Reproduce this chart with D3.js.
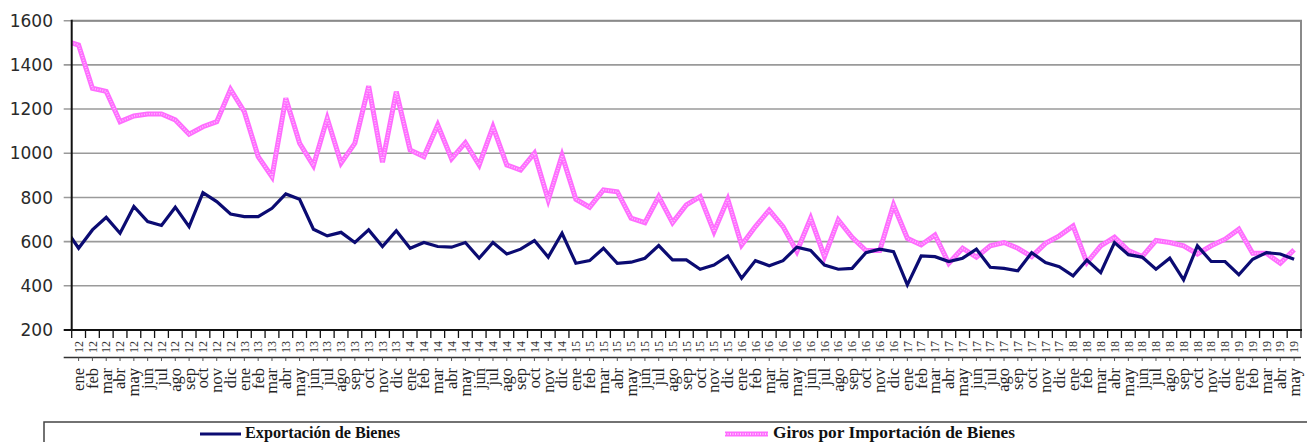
<!DOCTYPE html>
<html><head><meta charset="utf-8">
<script src="https://cdn.jsdelivr.net/npm/d3@7"></script>
<style>html,body{margin:0;padding:0;background:#fff;overflow:hidden}</style>
</head><body>
<svg id="c" width="1307" height="442"></svg>
<script>
const monthNames = ['ene','feb','mar','abr','may','jun','jul','ago','sep','oct','nov','dic'];
const yearLabels = ['12','13','14','15','16','17','18','19'];
// previous month (dic 11), only partially visible at the left edge
const exportPrev = 661;
const girosPrev = 1510;
const exportaciones = [
 570,653,710,638,759,691,673,756,668,822,
 781,725,713,713,751,816,792,656,626,642,
 596,653,578,649,570,596,578,575,596,525,
 596,544,566,605,530,638,502,514,570,502,
 507,525,582,517,517,475,494,535,434,514,
 491,514,575,560,494,475,479,550,566,555,
 404,535,532,510,525,566,484,479,468,550,
 505,487,445,517,460,596,541,530,475,525,
 427,581,510,510,450,520,550,544,520];
const giros = [
 1490,1294,1280,1143,1169,1178,1178,1151,1086,1120,
 1143,1289,1188,985,894,1249,1045,944,1158,955,
 1045,1304,959,1279,1015,985,1128,975,1048,947,
 1120,947,924,1000,789,990,792,756,834,826,
 706,686,804,686,766,804,645,792,585,668,
 743,668,555,706,532,698,620,560,560,766,
 615,585,630,502,570,530,581,596,570,532,
 592,626,671,505,581,620,560,532,605,596,
 581,544,581,611,656,547,547,502,563];
const yTicks = [200,400,600,800,1000,1200,1400,1600];
const seriesNames = ['Exportación de Bienes','Giros por Importación de Bienes'];

const categories = [];
for (let i = 0; i < exportaciones.length; i++) {
  categories.push({m: monthNames[i % 12], y: yearLabels[Math.floor(i / 12)]});
}

const svg = d3.select('#c');
const L = 71.7, R = 1301, T = 20.7, B = 330;
const x = d3.scaleLinear().domain([-0.5, categories.length - 0.5]).range([L, R]);
const y = d3.scaleLinear().domain([200, 1600]).range([B, T]);

// gridlines
svg.append('g').selectAll('line').data(yTicks).join('line')
  .attr('x1', L - 8).attr('x2', R).attr('y1', d => y(d)).attr('y2', d => y(d))
  .attr('stroke', d => d === 200 ? 'none' : '#9a9a9a').attr('stroke-width', 1.6);
// right / top border
svg.append('line').attr('x1', R).attr('x2', R).attr('y1', T - 0.8).attr('y2', B)
  .attr('stroke', '#8a8a8a').attr('stroke-width', 2);
svg.append('line').attr('x1', L).attr('x2', R + 1).attr('y1', T).attr('y2', T)
  .attr('stroke', '#8a8a8a').attr('stroke-width', 2);

// y labels
svg.append('g').selectAll('text').data(yTicks).join('text')
  .attr('x', 53).attr('y', d => y(d)).attr('dy', '0.36em')
  .attr('text-anchor', 'end').attr('font-family', 'DejaVu Sans').attr('font-size', 17)
  .attr('fill', '#2a2a2a').text(d => d);

// clip
svg.append('clipPath').attr('id', 'pc').append('rect')
  .attr('x', L).attr('y', 0).attr('width', R - L).attr('height', B + 5);

const idx = d3.range(-1, categories.length);
const line = v => d3.line().x(i => x(i)).y(i => y(i < 0 ? v.prev : v.arr[i]))(idx);

const gl = svg.append('g').attr('clip-path', 'url(#pc)');
gl.append('path').attr('d', line({prev: girosPrev, arr: giros}))
  .attr('fill', 'none').attr('stroke', '#ff6cff').attr('stroke-width', 5).attr('stroke-linejoin', 'miter');
gl.append('path').attr('d', line({prev: girosPrev, arr: giros}))
  .attr('fill', 'none').attr('stroke', '#ffc8ff').attr('stroke-width', 1.8)
  .attr('stroke-dasharray', '1 1.5').attr('opacity', 0.85);
gl.append('path').attr('d', line({prev: exportPrev, arr: exportaciones}))
  .attr('fill', 'none').attr('stroke', '#0b0b72').attr('stroke-width', 3.2).attr('stroke-linejoin', 'miter');

// axes lines
svg.append('line').attr('x1', L).attr('x2', L).attr('y1', T - 1).attr('y2', B + 1)
  .attr('stroke', '#111').attr('stroke-width', 2);
svg.append('line').attr('x1', L - 8).attr('x2', R + 1).attr('y1', B).attr('y2', B)
  .attr('stroke', '#111').attr('stroke-width', 2);

// x ticks at category boundaries
const bounds = d3.range(-0.5, categories.length, 1);
svg.append('g').selectAll('line').data(bounds).join('line')
  .attr('x1', d => x(d)).attr('x2', d => x(d)).attr('y1', B).attr('y2', B + 8)
  .attr('stroke', '#111').attr('stroke-width', 1.3);

// year labels (cramped)
svg.append('g').selectAll('text').data(categories).join('text')
  .attr('transform', (d, i) => `translate(${x(i)},347) rotate(-90)`)
  .attr('text-anchor', 'middle').attr('dy', '0.35em')
  .attr('font-family', 'Liberation Serif').attr('font-size', 12).attr('fill', '#333')
  .text(d => d.y);
// separator line
svg.append('line').attr('x1', L - 8).attr('x2', R).attr('y1', 357.5).attr('y2', 357.5)
  .attr('stroke', '#333').attr('stroke-width', 1.3);
svg.append('g').selectAll('line').data(categories).join('line')
  .attr('x1', (d, i) => x(i)).attr('x2', (d, i) => x(i)).attr('y1', 357.5).attr('y2', 361)
  .attr('stroke', '#555').attr('stroke-width', 1);

// month labels
svg.append('g').selectAll('text').data(categories).join('text')
  .attr('transform', (d, i) => `translate(${x(i)},368) rotate(-90)`)
  .attr('text-anchor', 'end').attr('dy', '0.33em')
  .attr('font-family', 'Liberation Serif').attr('font-size', 16.5).attr('fill', '#222')
  .text(d => d.m);

// legend
svg.append('rect').attr('x', 44).attr('y', 422).attr('width', 1280).attr('height', 40)
  .attr('fill', 'none').attr('stroke', '#444').attr('stroke-width', 1.5);
svg.append('line').attr('x1', 200).attr('x2', 241).attr('y1', 434).attr('y2', 434)
  .attr('stroke', '#0b0b72').attr('stroke-width', 3.2);
svg.append('text').attr('x', 245).attr('y', 438).attr('font-family', 'Liberation Serif')
  .attr('font-weight', 'bold').attr('font-size', 16).attr('fill', '#111')
  .attr('textLength', 155).attr('lengthAdjust', 'spacingAndGlyphs').text(seriesNames[0]);
svg.append('line').attr('x1', 725).attr('x2', 768).attr('y1', 434).attr('y2', 434)
  .attr('stroke', '#ff6cff').attr('stroke-width', 5);
svg.append('line').attr('x1', 725).attr('x2', 768).attr('y1', 434).attr('y2', 434)
  .attr('stroke', '#ffc8ff').attr('stroke-width', 1.8).attr('stroke-dasharray', '1 1.5');
svg.append('text').attr('x', 773).attr('y', 438).attr('font-family', 'Liberation Serif')
  .attr('font-weight', 'bold').attr('font-size', 16).attr('fill', '#111')
  .attr('textLength', 242).attr('lengthAdjust', 'spacingAndGlyphs').text(seriesNames[1]);
</script>
</body></html>
